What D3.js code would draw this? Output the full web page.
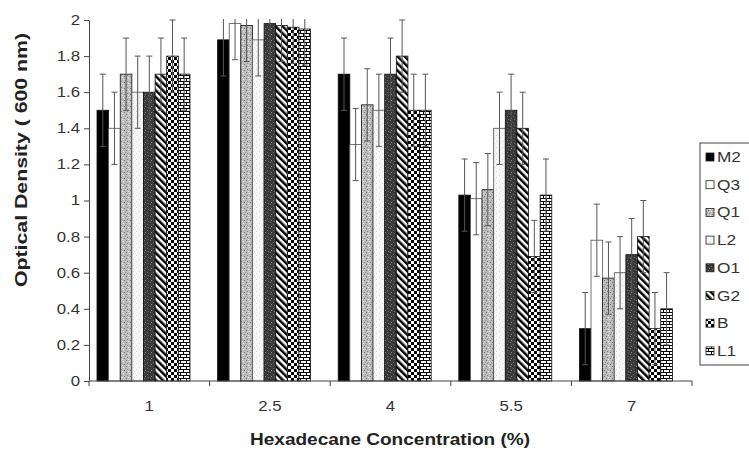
<!DOCTYPE html>
<html>
<head>
<meta charset="utf-8">
<script src="https://cdn.jsdelivr.net/npm/d3@7"></script>
<style>
  body { margin: 0; background: #fff; }
  svg { display: block; font-family: "Liberation Sans", Arial, sans-serif; }
</style>
</head>
<body>
<div id="chart"></div>
<script>
// categories and series
const cats = ["1", "2.5", "4", "5.5", "7"];
const seriesNames = ["M2", "Q3", "Q1", "L2", "O1", "G2", "B", "L1"];

// optical density values per series
const valM2 = [1.5, 1.89, 1.7, 1.03, 0.29];
const valQ3 = [1.4, 1.98, 1.31, 1.01, 0.78];
const valQ1 = [1.7, 1.97, 1.53, 1.06, 0.57];
const valL2 = [1.6, 1.89, 1.5, 1.4, 0.6];
const valO1 = [1.6, 1.98, 1.7, 1.5, 0.7];
const valG2 = [1.7, 1.97, 1.8, 1.4, 0.8];
const valB  = [1.8, 1.96, 1.5, 0.69, 0.29];
const valL1 = [1.7, 1.95, 1.5, 1.03, 0.4];

// error bar sizes
const errM2 = [0.2, 0.2, 0.2, 0.2, 0.2];
const errQ3 = [0.2, 0.2, 0.2, 0.2, 0.2];
const errQ1 = [0.2, 0.2, 0.2, 0.2, 0.2];
const errL2 = [0.2, 0.2, 0.2, 0.2, 0.2];
const errO1 = [0.2, 0.2, 0.2, 0.2, 0.2];
const errG2 = [0.2, 0.2, 0.2, 0.2, 0.2];
const errB  = [0.2, 0.2, 0.2, 0.2, 0.2];
const errL1 = [0.2, 0.2, 0.2, 0.2, 0.2];

const yTicks = [0, 0.2, 0.4, 0.6, 0.8, 1, 1.2, 1.4, 1.6, 1.8, 2];

const values = [valM2, valQ3, valQ1, valL2, valO1, valG2, valB, valL1];
const errors = [errM2, errQ3, errQ1, errL2, errO1, errG2, errB, errL1];
const fills = ["#000", "#fff", "url(#pQ1)", "url(#pL2)", "url(#pO1)", "url(#pG2)", "url(#pB)", "url(#pL1)"];

const width = 749, height = 450;
const svg = d3.select("#chart").append("svg")
    .attr("width", width)
    .attr("height", height);

// fill patterns
const defs = svg.append("defs");

function speckle(id, bg, dots) {
    const p = defs.append("pattern").attr("id", id)
        .attr("patternUnits", "userSpaceOnUse").attr("width", 6).attr("height", 6);
    p.append("rect").attr("width", 6).attr("height", 6).attr("fill", bg);
    dots.forEach(d => p.append("rect").attr("x", d[0]).attr("y", d[1])
        .attr("width", 1).attr("height", 1).attr("fill", d[2]));
}
speckle("pQ1", "#bdbdbd", [[0,0,"#777"],[3,1,"#e6e6e6"],[1,3,"#8a8a8a"],[4,4,"#777"],[2,5,"#eee"],[5,2,"#999"]]);
speckle("pL2", "#f6f6f6", [[1,1,"#d8d8d8"],[4,3,"#dcdcdc"],[2,5,"#e2e2e2"]]);
speckle("pO1", "#3a3a3a", [[0,0,"#777"],[3,2,"#6a6a6a"],[1,4,"#888"],[4,5,"#666"],[5,1,"#222"]]);

const pG2 = defs.append("pattern").attr("id", "pG2")
    .attr("patternUnits", "userSpaceOnUse").attr("width", 5).attr("height", 5)
    .attr("patternTransform", "rotate(-45)");
pG2.append("rect").attr("width", 5).attr("height", 5).attr("fill", "#fff");
pG2.append("rect").attr("width", 2.5).attr("height", 5).attr("fill", "#000");

const pB = defs.append("pattern").attr("id", "pB")
    .attr("patternUnits", "userSpaceOnUse").attr("width", 6).attr("height", 6);
pB.append("rect").attr("width", 6).attr("height", 6).attr("fill", "#000");
pB.append("rect").attr("width", 3).attr("height", 3).attr("fill", "#fff");
pB.append("rect").attr("x", 3).attr("y", 3).attr("width", 3).attr("height", 3).attr("fill", "#fff");

const pL1 = defs.append("pattern").attr("id", "pL1")
    .attr("patternUnits", "userSpaceOnUse").attr("width", 6).attr("height", 6);
pL1.append("rect").attr("width", 6).attr("height", 6).attr("fill", "#fff");
pL1.append("rect").attr("y", 0).attr("width", 6).attr("height", 1).attr("fill", "#000");
pL1.append("rect").attr("y", 3).attr("width", 6).attr("height", 1).attr("fill", "#000");
pL1.append("rect").attr("x", 0).attr("y", 0).attr("width", 1).attr("height", 3).attr("fill", "#000");
pL1.append("rect").attr("x", 3).attr("y", 3).attr("width", 1).attr("height", 3).attr("fill", "#000");

defs.append("clipPath").attr("id", "plotClip")
  .append("rect").attr("x", 89).attr("y", 19).attr("width", 603).attr("height", 363);

// scales
const x0 = d3.scaleBand().domain(cats).range([89, 692]);
// 9 slots per group: the last one is an empty series, as in the original
const x1 = d3.scaleBand().domain([...seriesNames, "_"]).range([8, x0.bandwidth() - 8]);
const y = d3.scaleLinear().domain([0, 2]).range([381, 20]);

// stretch text horizontally like the (slightly squashed) original
function stretch(sel, k) {
    sel.each(function() {
        const w = this.getComputedTextLength();
        d3.select(this).attr("textLength", w * k).attr("lengthAdjust", "spacingAndGlyphs");
    });
}

// bars
const plot = svg.append("g").attr("clip-path", "url(#plotClip)");
seriesNames.forEach((name, s) => {
    plot.selectAll(".bar-" + name)
        .data(values[s])
        .enter()
        .append("rect")
            .attr("x", (d, i) => x0(cats[i]) + x1(name))
            .attr("y", d => y(d))
            .attr("width", x1.bandwidth())
            .attr("height", d => y(0) - y(d))
            .attr("fill", fills[s])
            .attr("stroke", s === 1 || s === 3 ? "#555" : "#111")
            .attr("stroke-width", 0.8);
});

// error bars on top of all bars
seriesNames.forEach((name, s) => {
    values[s].forEach((v, i) => {
        const cx = x0(cats[i]) + x1(name) + x1.bandwidth() / 2;
        const e = errors[s][i];
        const g = plot.append("g").attr("stroke", "#555").attr("stroke-width", 1);
        g.append("line").attr("x1", cx).attr("x2", cx).attr("y1", y(v - e)).attr("y2", y(v + e));
        g.append("line").attr("x1", cx - 3).attr("x2", cx + 3).attr("y1", y(v + e)).attr("y2", y(v + e));
        g.append("line").attr("x1", cx - 3).attr("x2", cx + 3).attr("y1", y(v - e)).attr("y2", y(v - e));
    });
});

// y axis
const yAxis = svg.append("g")
    .attr("transform", "translate(89,0)")
    .call(d3.axisLeft(y).tickValues(yTicks).tickSize(5).tickSizeOuter(0).tickPadding(4)
        .tickFormat(d => +d.toFixed(1)));
yAxis.select(".domain").attr("stroke", "#444");
yAxis.selectAll(".tick line").attr("stroke", "#444");
yAxis.selectAll("text").attr("font-size", 14).attr("fill", "#333")
    .attr("font-family", "Liberation Sans, Arial, sans-serif");
stretch(yAxis.selectAll("text"), 1.2);

// x axis: baseline, boundary ticks, centered labels
const xAxis = svg.append("g");
xAxis.append("line").attr("x1", 89).attr("x2", 692).attr("y1", y(0)).attr("y2", y(0))
    .attr("stroke", "#444");
const bounds = cats.map(c => x0(c)).concat([x0.range()[1]]);
xAxis.selectAll(".xtick").data(bounds).enter().append("line")
    .attr("x1", d => d).attr("x2", d => d)
    .attr("y1", y(0)).attr("y2", y(0) + 5)
    .attr("stroke", "#444");
const xLabels = xAxis.selectAll(".xlab").data(cats).enter().append("text")
    .attr("x", d => x0(d) + x0.bandwidth() / 2)
    .attr("y", 411)
    .attr("text-anchor", "middle")
    .attr("font-size", 14)
    .attr("fill", "#333")
    .text(d => d);
stretch(xLabels, 1.2);

// axis titles
svg.append("text")
    .attr("x", 390).attr("y", 445)
    .attr("text-anchor", "middle")
    .attr("font-size", 16).attr("font-weight", "bold").attr("fill", "#222")
    .attr("textLength", 280).attr("lengthAdjust", "spacingAndGlyphs")
    .text("Hexadecane Concentration (%)");

svg.append("text")
    .attr("transform", "translate(27,160) rotate(-90)")
    .attr("text-anchor", "middle")
    .attr("font-size", 16).attr("font-weight", "bold").attr("fill", "#222")
    .attr("textLength", 254).attr("lengthAdjust", "spacingAndGlyphs")
    .text("Optical Density ( 600 nm)");

// legend
const legend = svg.append("g");
legend.append("rect")
    .attr("x", 700).attr("y", 143).attr("width", 60).attr("height", 222)
    .attr("fill", "#fff").attr("stroke", "#444");
seriesNames.forEach((name, s) => {
    const ly = 157 + s * 27.7;
    legend.append("rect")
        .attr("x", 706).attr("y", ly - 4).attr("width", 8).attr("height", 8)
        .attr("fill", fills[s]).attr("stroke", "#222").attr("stroke-width", 0.8);
    legend.append("text")
        .attr("x", 717).attr("y", ly + 5)
        .attr("font-size", 15).attr("fill", "#333")
        .text(name)
        .call(stretch, 1.15);
});
</script>
</body>
</html>
